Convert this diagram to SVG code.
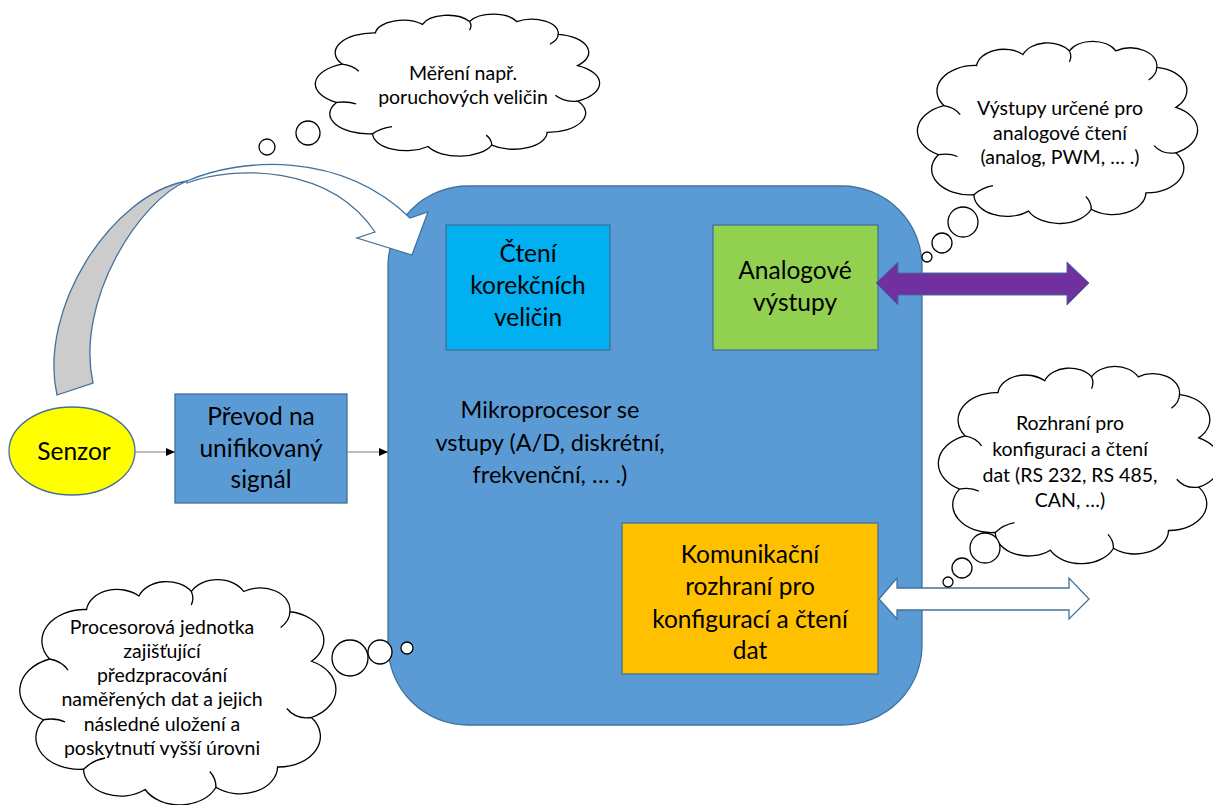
<svg xmlns="http://www.w3.org/2000/svg" xmlns:xlink="http://www.w3.org/1999/xlink" width="1213" height="805" viewBox="0 0 1213 805">
<style>
.box{stroke:#41719C;stroke-width:1.3}
.t{font-family:Lato,"Liberation Sans",sans-serif;font-size:24.5px;fill:#000;text-anchor:middle}
.tm{font-family:Lato,"Liberation Sans",sans-serif;font-size:23.5px;fill:#000;text-anchor:middle}
.ct{font-family:Lato,"Liberation Sans",sans-serif;font-size:19.5px;fill:#000;text-anchor:middle}
.cloud{fill:#fff;stroke:#000;stroke-width:1.3;vector-effect:non-scaling-stroke}
.hook{fill:none;stroke:#000;stroke-width:1.3;vector-effect:non-scaling-stroke}
.bub{fill:#fff;stroke:#000;stroke-width:1.3}
.conn{stroke:#7f7f7f;stroke-width:1.2;fill:none}
</style>
<defs>
<marker id="ah" markerWidth="9" markerHeight="8" refX="9" refY="4" orient="auto" markerUnits="userSpaceOnUse">
<path d="M0,0 L9,4 L0,8 Z" fill="#000"/>
</marker>
<g id="cloudShape">
<path class="cloud" d="M8,36 A14,14 0 0 1 20,14 A10,10 0 0 1 37,8 A9.5,9.5 0 0 1 54,6 A9.5,9.5 0 0 1 71,6 A9.7,9.7 0 0 1 86,15 A12.8,12.8 0 0 1 93,37 A13.8,13.8 0 0 1 93,62 A13.6,13.6 0 0 1 82,84 A12.1,12.1 0 0 1 62,93 A12.7,12.7 0 0 1 39,94 A12.1,12.1 0 0 1 19,85 A14.1,14.1 0 0 1 6,63 A14.9,14.9 0 0 1 8,36 Z"/>
<path class="hook" d="M8,36 Q12,37 14,41 M54,6 Q55,9 54,12 M86,15 Q86,19 83,22 M93,62 Q88,63 85,58 M62,93 Q62,89 60,86 M19,85 Q22,81 26,80 M6,63 Q10,62 13,64"/>
</g>
</defs>

<g id="mikroprocesor">
<rect class="box" x="388" y="186" width="534" height="539" rx="80" ry="80" fill="#5B9BD5"/>
<text class="tm"><tspan x="550" y="418">Mikroprocesor se</tspan><tspan x="550" y="451">vstupy (A/D, diskrétní,</tspan><tspan x="550" y="483">frekvenční, … .)</tspan></text>
</g>

<g id="curved-arrow">
<path d="M57,395 C38,310 110,195 187,181 C140,200 75,300 93,383 Z" fill="#CCCCCC" stroke="#41719C" stroke-width="1.3"/>
<path d="M187,181 C240,158 340,150 410,218 L428,212 L412,255 L357,238 L375,232 C330,165 235,165 187,183 Z" fill="#fff" stroke="#41719C" stroke-width="1.3"/>
</g>

<g id="cteni">
<rect class="box" x="446" y="225" width="164" height="125" fill="#00B0F0"/>
<text class="t"><tspan x="528" y="262">Čtení</tspan><tspan x="528" y="294">korekčních</tspan><tspan x="528" y="326">veličin</tspan></text>
</g>

<g id="analogove">
<rect class="box" x="713" y="225" width="165" height="125" fill="#92D050"/>
<text class="t"><tspan x="795" y="279">Analogové</tspan><tspan x="795" y="311">výstupy</tspan></text>
</g>

<g id="komunikacni">
<rect class="box" x="622" y="523" width="256" height="151" fill="#FFC000"/>
<text class="t"><tspan x="750" y="563">Komunikační</tspan><tspan x="750" y="595">rozhraní pro</tspan><tspan x="750" y="628">konfigurací a čtení</tspan><tspan x="750" y="659">dat</tspan></text>
</g>

<g id="prevod">
<rect class="box" x="175" y="394" width="172" height="109" fill="#5B9BD5"/>
<text class="t"><tspan x="261" y="425">Převod na</tspan><tspan x="261" y="457">unifikovaný</tspan><tspan x="261" y="488">signál</tspan></text>
</g>

<g id="senzor">
<ellipse class="box" cx="72" cy="451" rx="63" ry="44" fill="#FFFF00"/>
<text class="t" x="74" y="460">Senzor</text>
</g>

<g id="connectors">
<line class="conn" x1="135" y1="452" x2="175" y2="452" marker-end="url(#ah)"/>
<line class="conn" x1="347" y1="452" x2="388" y2="452" marker-end="url(#ah)"/>
<path d="M876,283 L898,262 L898,273 L1067,273 L1067,262 L1089,283 L1067,305 L1067,295 L898,295 L898,305 Z" fill="#7030A0" stroke="#41719C" stroke-width="1"/>
<path d="M879,599 L897,578 L897,588 L1069,588 L1069,578 L1089,599 L1069,619 L1069,610 L897,610 L897,619 Z" fill="#fff" stroke="#41719C" stroke-width="1.3"/>
</g>

<g id="cloud-mereni">
<use xlink:href="#cloudShape" transform="translate(320,13) scale(2.77,1.42)"/>
<circle class="bub" cx="308" cy="133" r="12"/>
<circle class="bub" cx="267" cy="147" r="8"/>
<text class="ct"><tspan x="463" y="80">Měření např.</tspan><tspan x="463" y="104">poruchových veličin</tspan></text>
</g>

<g id="cloud-vystupy">
<use xlink:href="#cloudShape" transform="translate(922,40) scale(2.73,1.82)"/>
<circle class="bub" cx="963" cy="222" r="15"/>
<circle class="bub" cx="942" cy="243" r="10"/>
<circle class="bub" cx="927" cy="257" r="5"/>
<text class="ct"><tspan x="1060" y="115">Výstupy určené pro</tspan><tspan x="1060" y="140">analogové čtení</tspan><tspan x="1060" y="164">(analog, PWM, … .)</tspan></text>
</g>

<g id="cloud-rozhrani">
<use xlink:href="#cloudShape" transform="translate(943,365) scale(2.75,1.97)"/>
<circle class="bub" cx="985" cy="548" r="15"/>
<circle class="bub" cx="962" cy="568" r="10"/>
<circle class="bub" cx="948" cy="582" r="5"/>
<text class="ct"><tspan x="1070" y="430">Rozhraní pro</tspan><tspan x="1070" y="456">konfiguraci a čtení</tspan><tspan x="1070" y="482">dat (RS 232, RS 485,</tspan><tspan x="1070" y="507">CAN, …)</tspan></text>
</g>

<g id="cloud-procesorova">
<use xlink:href="#cloudShape" transform="translate(25,578) scale(3.08,2.25)"/>
<circle class="bub" cx="350" cy="658" r="18"/>
<circle class="bub" cx="380" cy="652" r="12"/>
<circle class="bub" cx="407" cy="648" r="6"/>
<text class="ct"><tspan x="162" y="634">Procesorová jednotka</tspan><tspan x="162" y="658">zajišťující</tspan><tspan x="162" y="682">předzpracování</tspan><tspan x="162" y="706">naměřených dat a jejich</tspan><tspan x="162" y="731">následné uložení a</tspan><tspan x="162" y="755">poskytnutí vyšší úrovni</tspan></text>
</g>
</svg>
